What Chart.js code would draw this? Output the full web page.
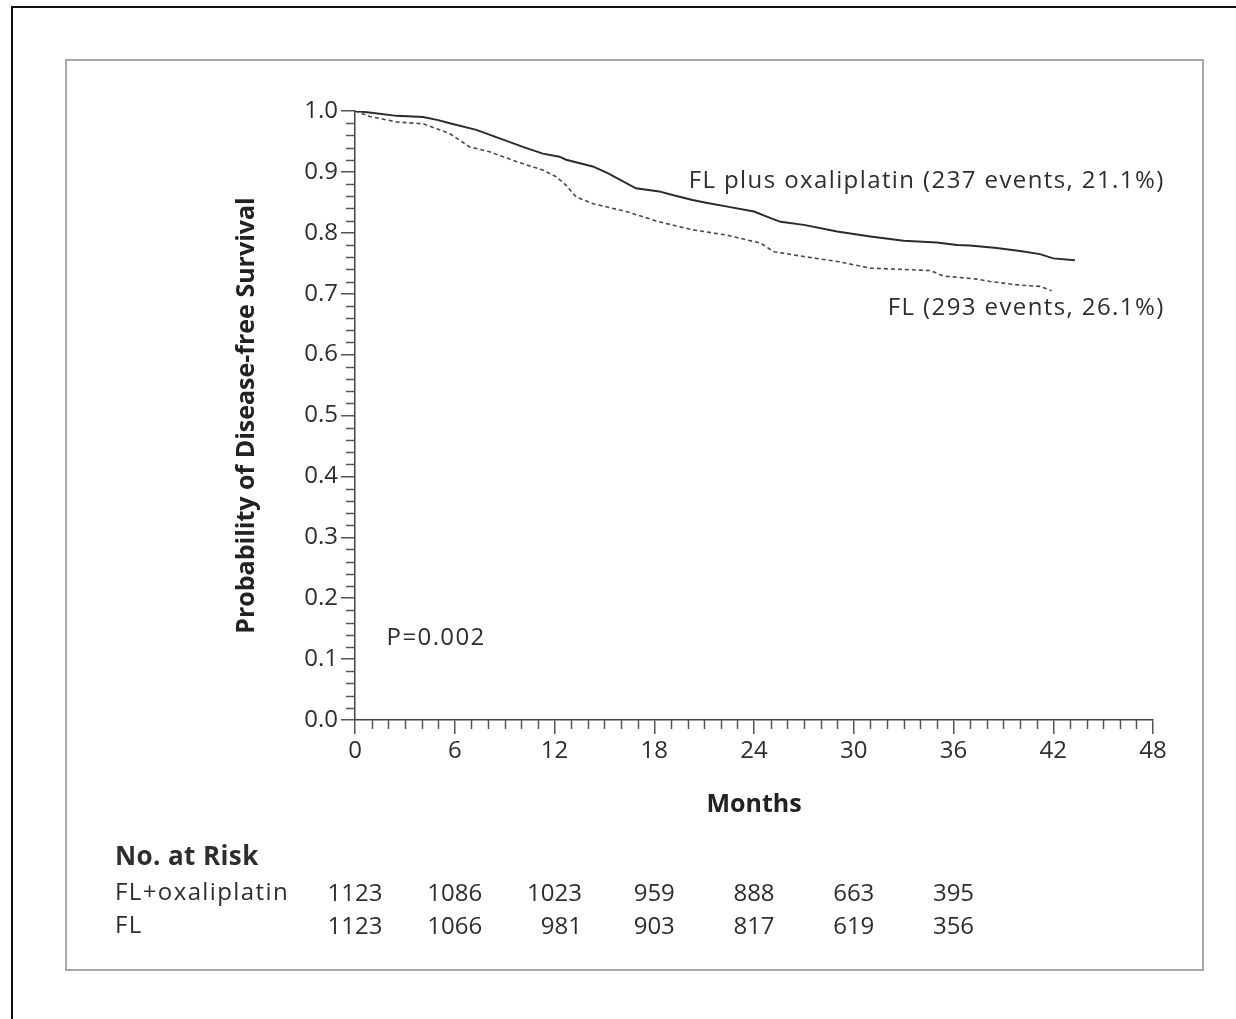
<!DOCTYPE html>
<html lang="en">
<head>
  <meta charset="UTF-8" />
  <title>Disease-free Survival</title>
  <script src="https://cdn.jsdelivr.net/npm/chart.js"></script>
  <style>
    body { margin: 0; background: #fff; }
    canvas { display: block; }
  </style>
</head>
<body>
  <canvas id="dfsChart" width="1236" height="1019"></canvas>
  <script>
    // curve values (months, probability)
    const oxaMonths = [0, 1, 2.5, 4.1, 5.0, 5.7, 7.3, 8.7, 10.1, 11.3, 12.3, 12.7, 14.3, 15.2, 16.9, 18.3, 19.1, 20.3, 21.2, 22.4, 24.0, 25.0, 25.6, 27.0, 29.0, 31.0, 33.0, 35.0, 36.2, 37.0, 38.6, 40.0, 41.2, 42.0, 43.3];
    const oxaSurv = [1.0, 0.997, 0.992, 0.990, 0.985, 0.980, 0.969, 0.955, 0.941, 0.930, 0.925, 0.920, 0.909, 0.898, 0.873, 0.868, 0.862, 0.854, 0.849, 0.843, 0.835, 0.824, 0.818, 0.813, 0.802, 0.794, 0.787, 0.784, 0.780, 0.779, 0.775, 0.770, 0.765, 0.758, 0.755];
    const flMonths = [0, 0.9, 2.5, 4.1, 5.7, 6.3, 6.9, 8.1, 9.7, 11.3, 12.1, 12.7, 13.3, 14.3, 16.3, 18.3, 20.3, 22.4, 24.4, 25.2, 27.0, 29.0, 31.0, 34.6, 35.4, 37.4, 38.2, 40.0, 41.2, 41.8, 41.9];
    const flSurv = [1.0, 0.991, 0.982, 0.979, 0.963, 0.952, 0.941, 0.933, 0.917, 0.903, 0.892, 0.878, 0.859, 0.848, 0.835, 0.818, 0.805, 0.796, 0.783, 0.769, 0.761, 0.753, 0.742, 0.738, 0.729, 0.724, 0.720, 0.714, 0.712, 0.706, 0.705];

    const riskMonths = [0, 6, 12, 18, 24, 30, 36];
    const riskOxa = [1123, 1086, 1023, 959, 888, 663, 395];
    const riskFl = [1123, 1066, 981, 903, 817, 619, 356];

    const FONT = "'Open Sans', 'Noto Sans', sans-serif";
    const INK = '#2e2e2e';

    const pts = (xs, ys) => xs.map((x, i) => ({ x: x, y: ys[i] }));

    const background = {
      id: 'background',
      beforeDraw(chart) {
        const ctx = chart.ctx;
        ctx.save();
        ctx.fillStyle = '#fff';
        ctx.fillRect(0, 0, chart.width, chart.height);
        // outer black frame (runs off the right/bottom edge)
        ctx.strokeStyle = '#111';
        ctx.lineWidth = 2;
        ctx.beginPath();
        ctx.moveTo(12, chart.height + 2);
        ctx.lineTo(12, 7);
        ctx.lineTo(chart.width + 2, 7);
        ctx.stroke();
        // inner grey frame
        ctx.strokeStyle = '#a8a8a8';
        ctx.strokeRect(66, 60, 1137, 910);
        ctx.restore();
      }
    };

    const extras = {
      id: 'extras',
      afterDraw(chart) {
        const ctx = chart.ctx;
        const xs = chart.scales.x, ys = chart.scales.y;
        const left = chart.chartArea.left, bottom = chart.chartArea.bottom;
        ctx.save();
        // minor ticks
        ctx.strokeStyle = '#555';
        ctx.lineWidth = 1.5;
        ctx.beginPath();
        for (let m = 1; m < 48; m++) {
          if (m % 6 === 0) continue;
          const px = Math.round(xs.getPixelForValue(m)) + 0.5;
          ctx.moveTo(px, bottom);
          ctx.lineTo(px, bottom + 9);
        }
        for (let k = 1; k < 50; k++) {
          if (k % 5 === 0) continue;
          const py = Math.round(ys.getPixelForValue(k * 0.02)) + 0.5;
          ctx.moveTo(left, py);
          ctx.lineTo(left - 9, py);
        }
        ctx.stroke();

        // curve labels and P value
        ctx.fillStyle = INK;
        ctx.font = '24px ' + FONT;
        ctx.letterSpacing = '1.4px';
        ctx.textBaseline = 'middle';
        ctx.textAlign = 'right';
        ctx.fillText('FL plus oxaliplatin (237 events, 21.1%)', xs.getPixelForValue(48.7), ys.getPixelForValue(0.885));
        ctx.fillText('FL (293 events, 26.1%)', xs.getPixelForValue(48.7), ys.getPixelForValue(0.677));
        ctx.textAlign = 'left';
        ctx.fillText('P=0.002', xs.getPixelForValue(1.9), ys.getPixelForValue(0.135));

        // number at risk
        ctx.fillText('FL+oxaliplatin', 115, 893);
        ctx.fillText('FL', 115, 926);
        ctx.letterSpacing = '0.4px';
        ctx.font = 'bold 26px ' + FONT;
        ctx.fillText('No. at Risk', 115, 858);
        ctx.letterSpacing = '0px';
        ctx.font = '24px ' + FONT;
        ctx.textAlign = 'right';
        riskMonths.forEach((m, i) => {
          const a = String(riskOxa[i]), b = String(riskFl[i]);
          const w = Math.max(ctx.measureText(a).width, ctx.measureText(b).width);
          const rx = xs.getPixelForValue(m) + w / 2;
          ctx.fillText(a, rx, 894);
          ctx.fillText(b, rx, 927);
        });
        ctx.restore();
      }
    };

    const axisTitle = (text) => ({
      display: true,
      text: text,
      color: '#222',
      font: { family: FONT, size: 25, weight: 'bold' },
      padding: { top: 4, bottom: 4 }
    });

    new Chart(document.getElementById('dfsChart'), {
      type: 'line',
      data: {
        datasets: [
          {
            label: 'FL plus oxaliplatin',
            data: pts(oxaMonths, oxaSurv),
            borderColor: '#2b2b2b',
            borderWidth: 2,
            pointRadius: 0,
            tension: 0,
            fill: false
          },
          {
            label: 'FL',
            data: pts(flMonths, flSurv),
            borderColor: '#4a4a4a',
            borderWidth: 1.6,
            borderDash: [4, 3],
            pointRadius: 0,
            tension: 0,
            fill: false
          }
        ]
      },
      options: {
        responsive: false,
        animation: false,
        layout: { padding: { left: 228, top: 111, right: 83, bottom: 195 } },
        plugins: { legend: { display: false }, tooltip: { enabled: false } },
        scales: {
          x: {
            type: 'linear',
            min: 0,
            max: 48,
            afterFit: s => { s.height = 104; },
            ticks: {
              stepSize: 6,
              color: INK,
              padding: 3,
              maxRotation: 0,
              font: { family: FONT, size: 24 }
            },
            grid: { drawOnChartArea: false, tickLength: 14, color: '#555', lineWidth: 1.5 },
            border: { color: '#444', width: 1.5 },
            title: axisTitle('Months')
          },
          y: {
            min: 0,
            max: 1,
            afterFit: s => { s.width = 127; },
            ticks: {
              stepSize: 0.1,
              color: INK,
              padding: 3,
              font: { family: FONT, size: 24 },
              callback: v => v.toFixed(1)
            },
            grid: { drawOnChartArea: false, tickLength: 14, color: '#555', lineWidth: 1.5 },
            border: { color: '#444', width: 1.5 },
            title: axisTitle('Probability of Disease-free Survival')
          }
        }
      },
      plugins: [background, extras]
    });
  </script>
</body>
</html>
